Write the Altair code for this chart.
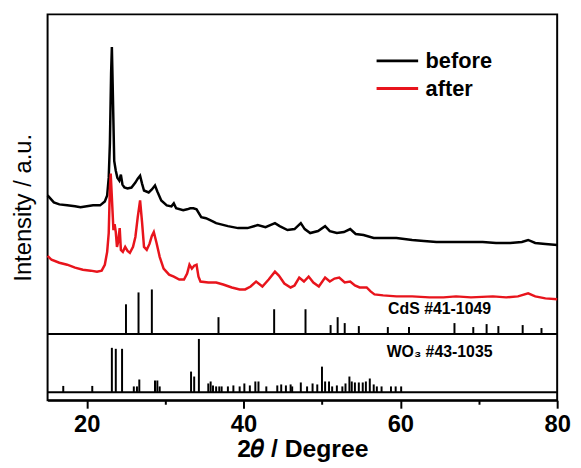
import altair as alt
import pandas as pd

# ---- XRD curves (2theta in degrees, intensity in a.u., offset as in the figure) ----
before_2theta = [15.0, 15.8, 16.5, 17.5, 18.5, 19.2, 20.0, 20.8, 21.7, 22.3, 22.6, 22.8, 22.95, 23.1, 23.2,
                 23.3, 23.5, 23.7, 23.9, 24.15, 24.35, 24.55, 24.8, 25.2, 25.7, 26.2, 26.5, 26.8, 27.05,
                 27.3, 27.9, 28.3, 28.7, 29.0, 29.5, 30.2, 30.8, 31.1, 31.4, 32.3, 32.8, 33.2, 33.6, 34.0,
                 34.6, 35.2, 36.0, 36.5, 37.0, 38.0, 39.3, 40.5, 41.8, 42.8, 44.0, 44.6, 45.6, 46.5, 47.3,
                 47.8, 48.5, 49.5, 50.4, 51.0, 51.9, 52.8, 53.6, 54.3, 55.3, 56.6, 58.0, 59.5, 61.5, 63.0,
                 64.6, 66.5, 68.5, 70.5, 72.2, 74.0, 75.5, 76.3, 77.2, 78.5, 80.0]
before_int = [207, 200, 198, 197, 196, 195, 196, 197, 197, 201, 207, 225, 260, 330, 357,
              320, 242, 232, 225, 222, 228, 218, 215, 214, 215, 220, 224, 227, 219,
              212, 210, 213, 217, 211, 202, 197, 196, 199, 194, 192, 193, 194, 194, 193,
              185, 184, 181, 179, 178, 176, 174, 174, 177, 175, 179, 176, 172, 173, 179,
              173, 169, 171, 176, 171, 169, 170, 173, 168, 167, 164, 164, 164, 162, 161,
              160, 160, 160, 160, 159, 159, 160, 162, 159, 158, 157]

after_2theta = [15.0, 15.5, 16.5, 17.5, 18.5, 19.5, 20.5, 21.3, 21.9, 22.3, 22.6, 22.8, 22.95, 23.05,
                23.2, 23.4, 23.55, 23.7, 23.85, 24.0, 24.2, 24.35, 24.6, 24.9, 25.2, 25.5, 25.9, 26.2,
                26.5, 26.8, 27.05, 27.3, 27.65, 28.0, 28.3, 28.55, 28.9, 29.3, 29.8, 30.5, 31.1, 31.8,
                32.4, 32.8, 33.1, 33.4, 33.7, 34.0, 34.25, 34.5, 35.5, 36.5, 37.4, 38.5, 39.5, 40.2,
                40.9, 41.6, 42.4, 43.2, 44.0, 44.5, 45.2, 46.0, 46.5, 47.1, 47.7, 48.3, 48.9, 49.6,
                50.4, 51.0, 51.6, 52.2, 52.9, 53.6, 54.2, 54.8, 55.7, 56.2, 56.7, 57.8, 59.5, 61.5,
                63.7, 65.5, 67.1, 69.0, 71.8, 73.5, 75.0, 76.3, 77.2, 78.5, 80.0]
after_int = [146, 142, 139, 137, 134, 132, 131, 130, 131, 137, 150, 169, 215, 229,
             205, 172, 178, 170, 155, 160, 174, 152, 150, 155, 151, 149, 155, 165,
             185, 202, 180, 155, 152, 158, 166, 170, 159, 145, 133, 127, 125, 122,
             122, 128, 137, 133, 136, 137, 125, 120, 119, 119, 117, 114, 112, 112,
             115, 120, 115, 122, 130, 126, 118, 114, 116, 124, 120, 125, 119, 115,
             124, 120, 123, 124, 119, 120, 116, 114, 114, 110, 107, 106, 105, 105,
             104, 104, 105, 104, 105, 104, 105, 108, 105, 103, 102]

# ---- reference patterns (stick heights above their baselines) ----
cds_pos = [25.0, 26.6, 28.3, 36.8, 43.9, 47.9, 51.1, 52.0, 52.9, 54.7, 58.4, 61.1, 66.9, 69.3,
           71.0, 72.5, 75.6, 78.0]
cds_int = [30, 42, 45, 17, 25, 25, 9, 17, 11, 8, 7, 7, 11, 7, 10, 8, 9, 6]

wo3_pos = [17.0, 20.7, 23.2, 23.7, 24.5, 26.0, 26.4, 26.7, 28.7, 29.0, 29.3, 33.3, 33.7, 34.3,
           35.5, 35.8, 36.1, 36.5, 36.9, 37.2, 38.0, 38.7, 39.5, 40.1, 40.8, 41.5, 41.9, 42.9,
           44.3, 44.8, 45.4, 46.0, 46.2, 47.3, 48.1, 48.8, 49.4, 50.0, 50.4, 50.9, 51.3, 51.9,
           52.6, 53.0, 53.5, 53.8, 54.2, 54.7, 55.2, 55.6, 56.1, 56.6, 57.0, 57.6, 58.8, 59.4, 60.1]
wo3_int = [6.5, 6.5, 45, 44, 44, 6, 6, 13, 12, 12, 6, 21, 16, 54,
           9, 11, 7, 6, 6, 6, 6, 7, 6, 9, 7, 11, 11, 6,
           7, 8, 7, 8, 6, 10, 6, 9, 8, 26, 11, 11, 6, 7,
           6, 9, 16, 11, 10, 10, 10, 11, 14, 8, 6, 6, 6, 6, 6]

series_names = ["before", "after"]
series_colors = ["#000000", "#e8141c"]
cds_base = 67
wo3_base = 8
x_ticks = [20, 30, 40, 50, 60, 70, 80]

curves = pd.concat([
    pd.DataFrame({"x": before_2theta, "y": before_int, "series": "before"}),
    pd.DataFrame({"x": after_2theta, "y": after_int, "series": "after"}),
], ignore_index=True)
cds = pd.DataFrame({"x": cds_pos, "h": cds_int})
cds["top"] = cds["h"] + cds_base
cds["base"] = cds_base
wo3 = pd.DataFrame({"x": wo3_pos, "h": wo3_int})
wo3["top"] = wo3["h"] + wo3_base
wo3["base"] = wo3_base
bases = pd.DataFrame({"base": [cds_base, wo3_base]})

FONT = "Liberation Sans"
x_scale = alt.Scale(domain=[15, 80], nice=False, zero=False)
y_scale = alt.Scale(domain=[0, 390], nice=False, zero=False)

x_axis = alt.Axis(
    title="2\U0001D703 / Degree", values=x_ticks,
    labelExpr="datum.value % 20 === 0 ? datum.label : ''",
    tickSize={"condition": {"test": "datum.value % 20 === 0", "value": 8}, "value": 4},
    tickWidth=2, tickColor="black", domainColor="black", domainWidth=2,
    labelFontSize=24, labelFontWeight="bold", labelColor="black", labelPadding=5,
    labelFlush=False, labelOverlap=False, grid=False,
    titleFontSize=25, titleFontWeight="bold", titleColor="black", titlePadding=0,
)
y_axis = alt.Axis(title="Intensity / a.u.", labels=False, ticks=False, domain=False, grid=False,
                  titleFontSize=24, titleFontWeight="normal", titleColor="black", titlePadding=12)

lines = alt.Chart(curves).mark_line(strokeWidth=2.5).encode(
    x=alt.X("x:Q", scale=x_scale, axis=x_axis),
    y=alt.Y("y:Q", scale=y_scale, axis=y_axis),
    color=alt.Color("series:N", scale=alt.Scale(domain=series_names, range=series_colors),
                    legend=alt.Legend(title=None, orient="none", legendX=331, legendY=35,
                                      symbolType="stroke", symbolSize=1764, symbolStrokeWidth=3,
                                      labelFontSize=22, labelFontWeight="bold", labelColor="black",
                                      labelOffset=6, clipHeight=24, rowPadding=4, padding=0)),
)

cds_sticks = alt.Chart(cds).mark_rule(color="black", strokeWidth=2).encode(
    x=alt.X("x:Q", scale=x_scale), y=alt.Y("top:Q", scale=y_scale), y2="base:Q")
wo3_sticks = alt.Chart(wo3).mark_rule(color="black", strokeWidth=2).encode(
    x=alt.X("x:Q", scale=x_scale), y=alt.Y("top:Q", scale=y_scale), y2="base:Q")
base_rules = alt.Chart(bases).mark_rule(color="black", strokeWidth=2).encode(
    y=alt.Y("base:Q", scale=y_scale))

cds_label = alt.Chart().mark_text(fontSize=16, fontWeight="bold", color="black", font=FONT).encode(
    x=alt.datum(65, scale=x_scale), y=alt.datum(92, scale=y_scale), text=alt.value("CdS #41-1049"))
wo3_label = alt.Chart().mark_text(fontSize=16, fontWeight="bold", color="black", font=FONT).encode(
    x=alt.datum(65, scale=x_scale), y=alt.datum(49, scale=y_scale), text=alt.value("WO\u2083 #43-1035"))

chart = alt.layer(base_rules, cds_sticks, wo3_sticks, lines, cds_label, wo3_label).properties(
    width=515, height=390,
    autosize=alt.AutoSizeParams(type="none"),
    padding={"left": 40, "top": 4, "right": 16, "bottom": 66},
).configure(font=FONT).configure_view(stroke="black", strokeWidth=2)

chart.save("out.html", embed_options={"renderer": "svg", "actions": False})
